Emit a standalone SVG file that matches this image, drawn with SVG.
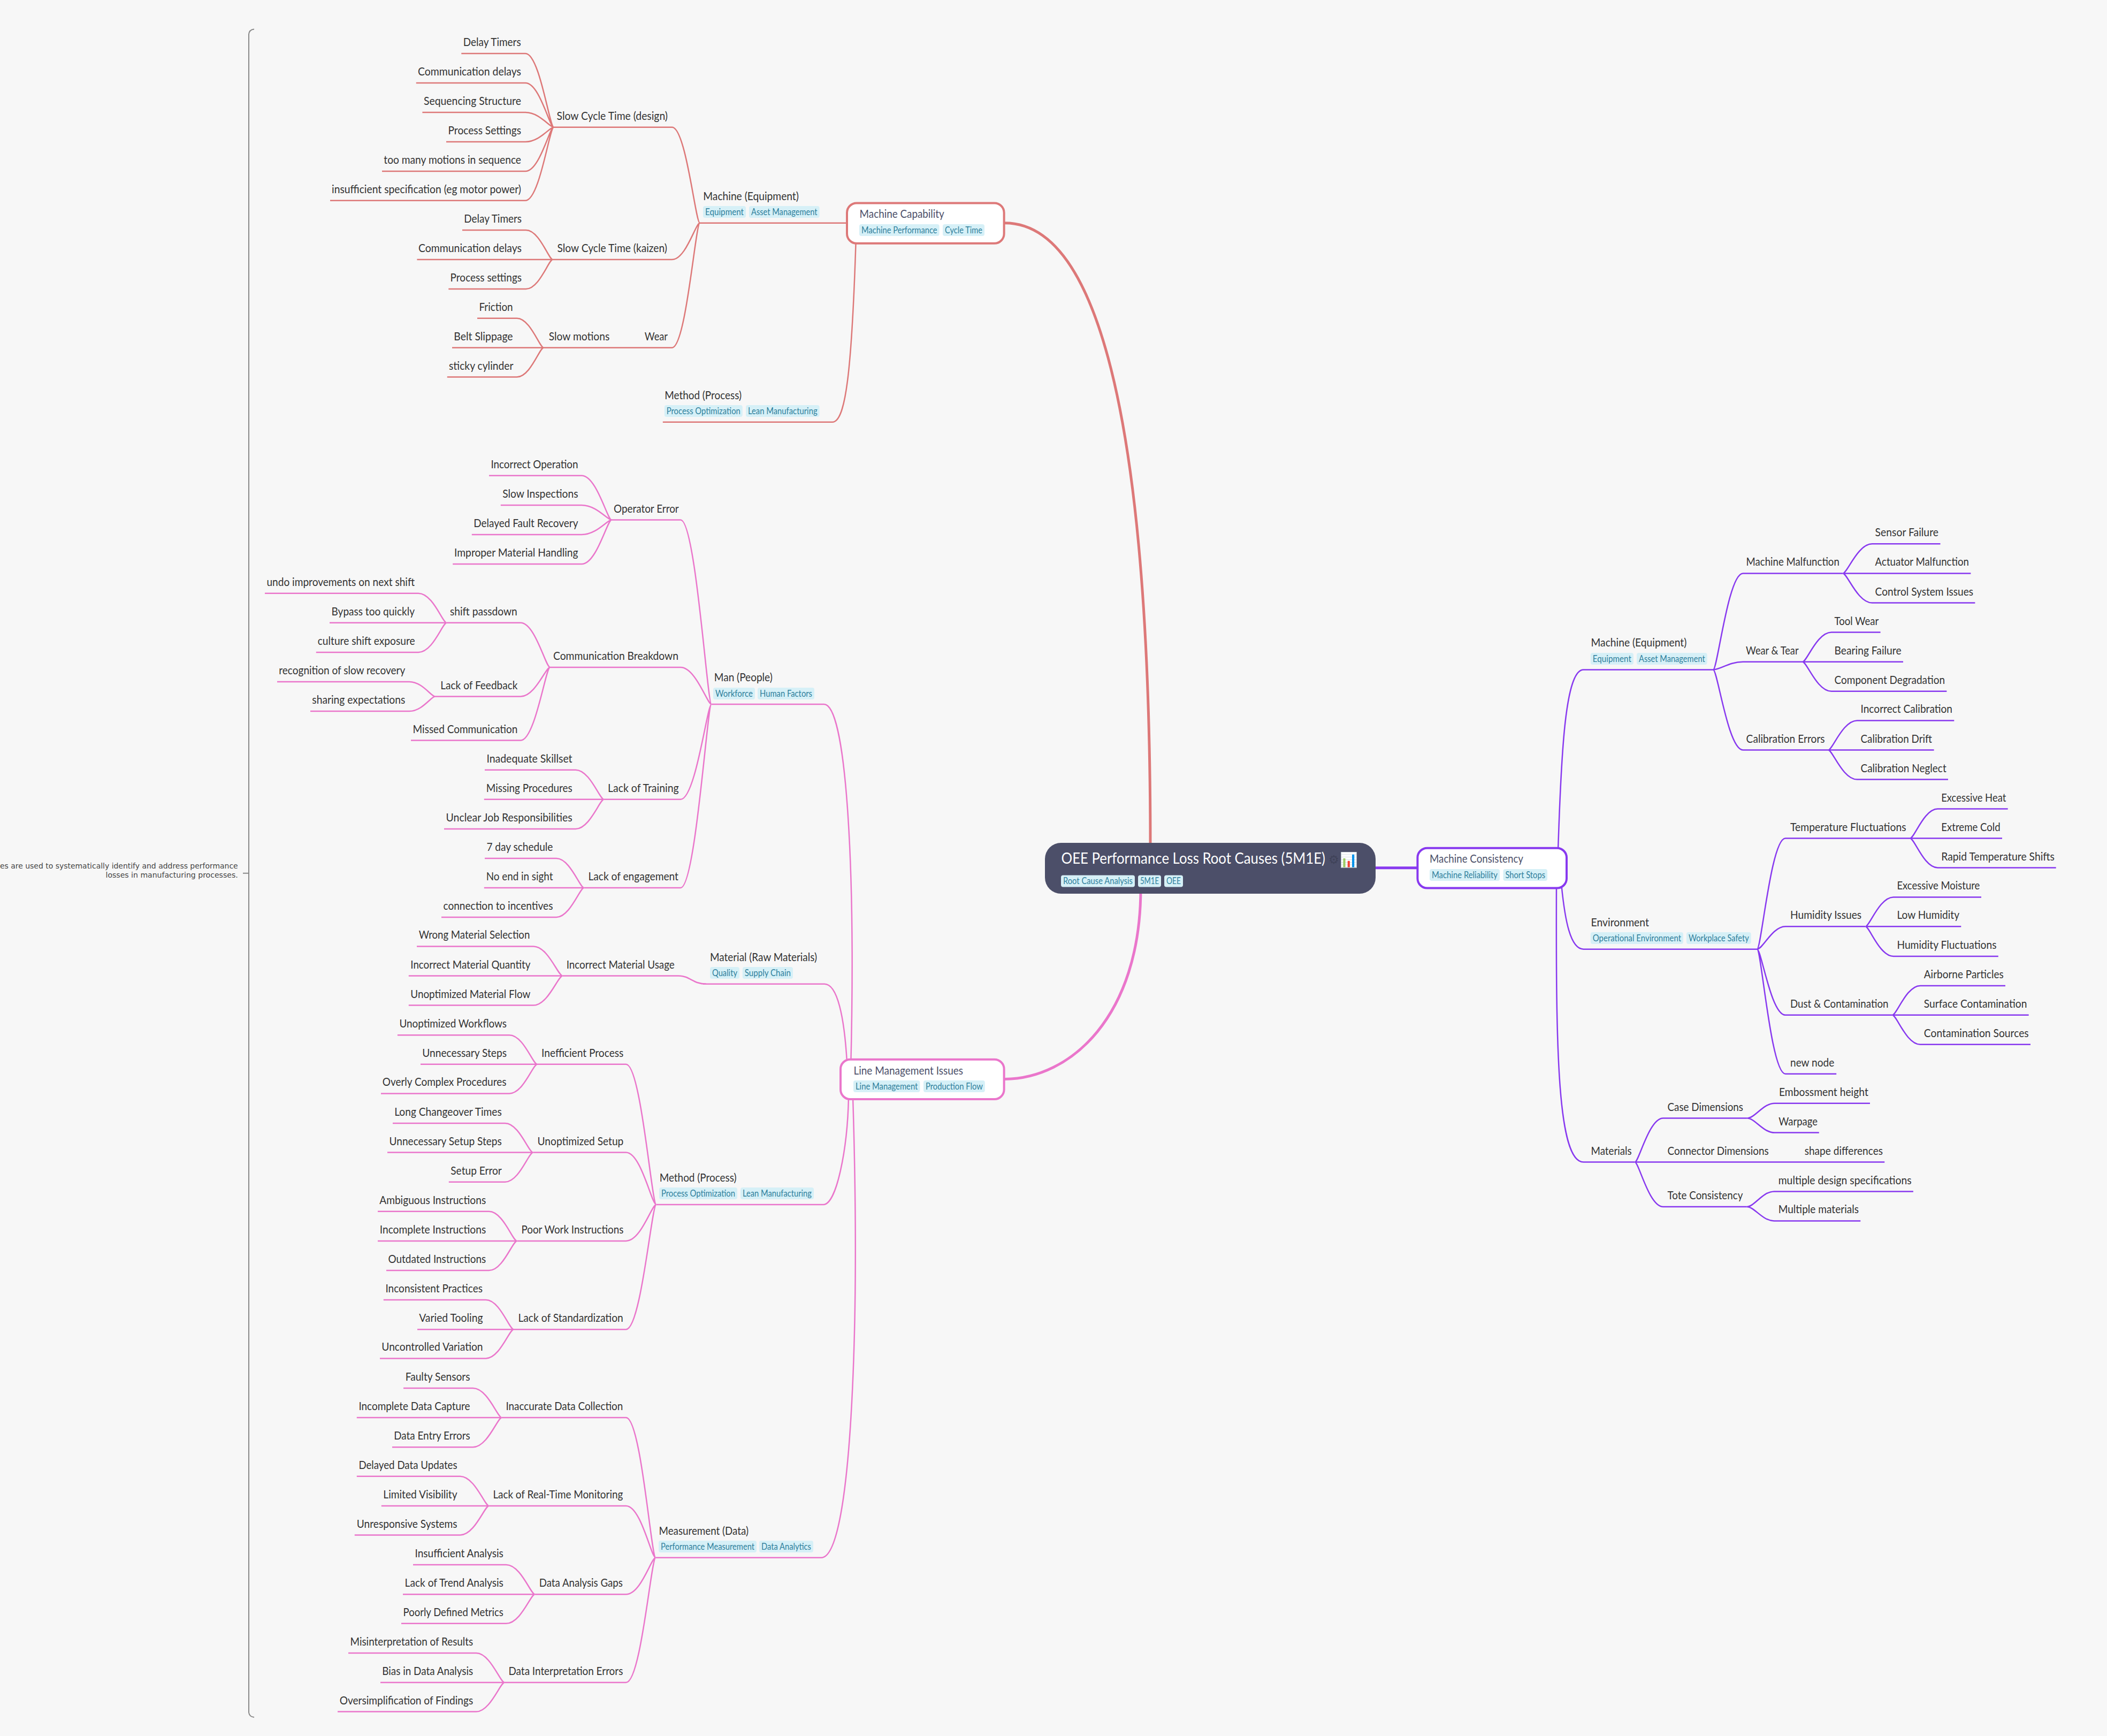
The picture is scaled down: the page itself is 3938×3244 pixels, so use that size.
<svg xmlns="http://www.w3.org/2000/svg" width="3938" height="3244" viewBox="0 0 3938 3244">
<style>
text{font-family:Lato,"Liberation Sans",sans-serif}
.l{font-size:22px;fill:#333}
.t{font-size:22px;fill:#4c4f69}
.r{font-size:28px;fill:#fff}
.g{font-size:16.5px;fill:#2e7f9c}
.gb{fill:#d6f0f7}
.d{font-family:"DejaVu Sans",sans-serif;font-size:13.3px;fill:#444}
path{fill:none}
.c1{stroke:#dd7878;stroke-width:2.5}
.c2{stroke:#ea76cb;stroke-width:2.5}
.c3{stroke:#8839ef;stroke-width:2.5}
.nr{fill:#fff;stroke-width:4}
</style>
<rect width="3938" height="3244" fill="#f7f7f7"/>
<g id="summary-brace"><path d="M475 54.6Q466 55.5 465 64V3200Q466 3208 475 3209M454 1631.7H465" stroke="#888" stroke-width="2"/>
<text class="d" x="0" y="1623" textLength="444.7" lengthAdjust="spacingAndGlyphs">es are used to systematically identify and address performance</text>
<text class="d" x="197.5" y="1640" textLength="247.2" lengthAdjust="spacingAndGlyphs">losses in manufacturing processes.</text></g>
<g id="connectors">
<g class="c1">
<path style="stroke-width:5" d="M1878 416.8C2030 416.8 2150 700 2150 1580"/>
<path d="M1308 416.8H1585M1238.8 788.8H1555.6C1580 788.8 1592 700 1600 440"/>
<path d="M1035 237.8H1256C1282 237.8 1300 416.8 1308 416.8M1033 485H1256C1282 485 1300 416.8 1308 416.8M1016 649.7H1256C1282 649.7 1300 416.8 1308 416.8"/>
<path d="M862.3 100H982C1008.5 100 1027 237.8 1035 237.8M777.8 155H982C1008.5 155 1027 237.8 1035 237.8M789.4 210H982C1008.5 210 1027 237.8 1035 237.8M834 265H982C1008.5 265 1027 237.8 1035 237.8M714 320H982C1008.5 320 1027 237.8 1035 237.8M617 374.8H982C1008.5 374.8 1027 237.8 1035 237.8"/>
<path d="M864 430H983C1008 430 1025.5 485 1033 485M779.4 485H1033M838.3 540H983C1008 540 1025.5 485 1033 485"/>
<path d="M892 594.8H966C991 594.8 1008.5 649.7 1016 649.7M845 649.7H1016M835.8 704.6H966C991 704.6 1008.5 649.7 1016 649.7"/>
</g>
<g class="c2">
<path style="stroke-width:5" d="M1878 2016.5C2000 2016 2132 1900 2132 1660"/>
<path d="M1329.6 1315.9H1540C1580 1315.9 1600 1600 1590 2000M1314 1838.8H1541C1565 1838.8 1578 1900 1583 1985M1226.5 2251H1539C1563 2251 1584 2150 1586 2050M1225.5 2910.8H1535C1590 2910.8 1608 2500 1594 2050"/>
<path d="M1143 971.5H1272C1300 971.5 1322 1315.9 1329.6 1315.9M1028 1247H1272C1300 1247 1322 1315.9 1329.6 1315.9M1128.7 1493.8H1272C1300 1493.8 1322 1315.9 1329.6 1315.9M1091.4 1659H1272C1300 1659 1322 1315.9 1329.6 1315.9"/>
<path d="M914 888.8H1087C1115 888.8 1135 971.5 1143 971.5M935.8 943.9H1087C1115 943.9 1135 971.5 1143 971.5M881.8 999H1087C1115 999 1135 971.5 1143 971.5M846.2 1054.1H1087C1115 1054.1 1135 971.5 1143 971.5"/>
<path d="M834.8 1163.8H973C1000 1163.8 1020 1247 1028 1247M813 1301.5H973C1000 1301.5 1020 1247 1028 1247M768 1383.6H973C1000 1383.6 1020 1247 1028 1247"/>
<path d="M495 1108.7H782C809 1108.7 827 1163.8 834.8 1163.8M616 1163.8H834.8M590.8 1218.9H782C809 1218.9 827 1163.8 834.8 1163.8"/>
<path d="M518 1274H765C789 1274 806 1301.5 813 1301.5M580 1329H765C789 1329 806 1301.5 813 1301.5"/>
<path d="M906 1438.7H1076C1102 1438.7 1121 1493.8 1128.7 1493.8M904.8 1493.8H1128.7M830 1549H1076C1102 1549 1121 1493.8 1128.7 1493.8"/>
<path d="M906 1604H1040C1065 1604 1084 1659 1091.4 1659M904.8 1659H1091.4M825 1714H1040C1065 1714 1084 1659 1091.4 1659"/>
<path d="M1051.5 1823.5H1268C1290 1823.5 1295 1838.8 1320 1838.8"/>
<path d="M779 1768.4H997C1024 1768.4 1043 1823.5 1051.5 1823.5M763.8 1823.5H1051.5M763.8 1878.6H997C1024 1878.6 1043 1823.5 1051.5 1823.5"/>
<path d="M1004 1988.8H1170C1198 1988.8 1218 2251 1226.5 2251M996.4 2153.6H1170C1198 2153.6 1218 2251 1226.5 2251M966.3 2318.9H1170C1198 2318.9 1218 2251 1226.5 2251M960 2484.2H1170C1198 2484.2 1218 2251 1226.5 2251"/>
<path d="M742.9 1934.2H952C978 1934.2 996 1988.8 1004 1988.8M786 1988.8H1004M712 2043.4H952C978 2043.4 996 1988.8 1004 1988.8"/>
<path d="M734 2099H944C970 2099 988 2153.6 996.4 2153.6M724 2153.6H996.4M838.8 2208.7H944C970 2208.7 988 2153.6 996.4 2153.6"/>
<path d="M706 2263.8H914C940 2263.8 958 2318.9 966.3 2318.9M706 2318.9H966.3M722 2374H914C940 2374 958 2318.9 966.3 2318.9"/>
<path d="M716.8 2429H908C934 2429 952 2484.2 960 2484.2M780 2484.2H960M710 2538.4H908C934 2538.4 952 2484.2 960 2484.2"/>
<path d="M937.8 2649H1170C1198 2649 1217 2910.8 1225.5 2910.8M913.8 2813.9H1170C1198 2813.9 1217 2910.8 1225.5 2910.8M999.5 2979.2H1170C1198 2979.2 1217 2910.8 1225.5 2910.8M942.9 3144H1170C1198 3144 1217 2910.8 1225.5 2910.8"/>
<path d="M754 2594H884C911 2594 930 2649 937.8 2649M666.8 2649H937.8M733 2704.2H884C911 2704.2 930 2649 937.8 2649"/>
<path d="M666.8 2758.8H860C887 2758.8 906 2813.9 913.8 2813.9M712.8 2813.9H913.8M662.8 2868.5H860C887 2868.5 906 2813.9 913.8 2813.9"/>
<path d="M772 2924H946C973 2924 992 2979.2 999.5 2979.2M753 2979.2H999.5M750 3033.8H946C973 3033.8 992 2979.2 999.5 2979.2"/>
<path d="M651 3089H890C916 3089 935 3144 942.9 3144M711 3144H942.9M631 3198.6H890C916 3198.6 935 3144 942.9 3144"/>
</g>
<g class="c3">
<path style="stroke-width:5" d="M2571 1621.7H2650"/>
<path d="M2912 1590C2918 1400 2926 1251.5 2959.6 1251.5H3202M2918.5 1655C2925 1720 2935 1773.7 2959.6 1773.7H3284M2909 1655C2908 1950 2910 2171.6 2959.6 2171.6H3055.6"/>
<path d="M3202 1251.5C3210 1251.5 3230 1071.4 3257.6 1071.4H3444.4M3202 1251.5C3215 1251.5 3232 1236.7 3257.6 1236.7H3369M3202 1251.5C3210 1251.5 3230 1401.5 3257.6 1401.5H3417"/>
<path d="M3444.4 1071.4C3452.5 1071.4 3472 1016.3 3499 1016.3H3626.5M3444.4 1071.4H3683.4M3444.4 1071.4C3452.5 1071.4 3472 1126.5 3499 1126.5H3691.4"/>
<path d="M3369 1236.7C3377 1236.7 3396 1181.6 3423 1181.6H3514.6M3369 1236.7H3557M3369 1236.7C3377 1236.7 3396 1291.8 3423 1291.8H3638.4"/>
<path d="M3417 1401.5C3425 1401.5 3444 1346.4 3471 1346.4H3652.3M3417 1401.5H3614.6M3417 1401.5C3425 1401.5 3444 1456.6 3471 1456.6H3641"/>
<path d="M3284 1773.7C3292 1773.7 3310 1566.5 3337 1566.5H3570M3284 1773.7C3295 1773.7 3312 1731.3 3337 1731.3H3486.5M3284 1773.7C3292 1773.7 3310 1896.8 3337 1896.8H3536.8M3284 1773.7C3292 1773.7 3310 2006.7 3337 2006.7H3432.2"/>
<path d="M3570 1566.5C3578 1566.5 3596 1511.6 3621.6 1511.6H3752.7M3570 1566.5H3742M3570 1566.5C3578 1566.5 3596 1621.5 3621.6 1621.5H3842.7"/>
<path d="M3486.5 1731.3C3494 1731.3 3513 1676.4 3538.8 1676.4H3703M3486.5 1731.3H3665.3M3486.5 1731.3C3494 1731.3 3513 1787 3538.8 1787H3734.8"/>
<path d="M3536.8 1896.8C3545 1896.8 3563 1841.9 3589 1841.9H3748M3536.8 1896.8H3791.7M3536.8 1896.8C3545 1896.8 3563 1951.8 3589 1951.8H3795"/>
<path d="M3055.6 2171.6C3063 2171.6 3082 2089.5 3108.5 2089.5H3265.4M3055.6 2171.6H3522.3M3055.6 2171.6C3063 2171.6 3082 2255 3108.5 2255H3264.8"/>
<path d="M3265.4 2089.5C3280 2089.5 3295 2061.7 3317 2061.7H3495M3265.4 2089.5C3280 2089.5 3295 2116.6 3317 2116.6H3399.8"/>
<path d="M3264.8 2255C3279 2255 3294 2226.5 3315.7 2226.5H3575.9M3264.8 2255C3279 2255 3294 2281.4 3315.7 2281.4H3477.3"/>
</g>
</g>
<g id="root"><rect x="1953" y="1575" width="618" height="95" rx="30" fill="#4c4f69"/>
<text class="r" x="1983.5" y="1614" textLength="493.5" lengthAdjust="spacingAndGlyphs">OEE Performance Loss Root Causes (5M1E)</text>
<text x="2483" y="1614" font-size="22" fill="#3f4258" style="font-family:'DejaVu Sans',sans-serif">⚙</text>
<text x="2504" y="1616" font-size="27" style="font-family:'DejaVu Sans','Noto Sans',sans-serif">📊</text>
<rect class="gb" x="1983" y="1635.5" width="138" height="22" rx="4"/><text class="g" x="1987" y="1652" textLength="130" lengthAdjust="spacingAndGlyphs">Root Cause Analysis</text>
<rect class="gb" x="2127" y="1635.5" width="43" height="22" rx="4"/><text class="g" x="2131" y="1652" textLength="35" lengthAdjust="spacingAndGlyphs">5M1E</text>
<rect class="gb" x="2176" y="1635.5" width="35" height="22" rx="4"/><text class="g" x="2180" y="1652" textLength="27" lengthAdjust="spacingAndGlyphs">OEE</text></g>
<g id="machine-capability"><rect class="nr" x="1583" y="379.5" width="293.6" height="75.3" rx="18" stroke="#dd7878"/>
<text class="t" x="1606.6" y="407" textLength="158.2" lengthAdjust="spacingAndGlyphs">Machine Capability</text>
<rect class="gb" x="1606" y="419" width="149.6" height="22" rx="4"/><text class="g" x="1610" y="435.5" textLength="141.6" lengthAdjust="spacingAndGlyphs">Machine Performance</text>
<rect class="gb" x="1762" y="419" width="78" height="22" rx="4"/><text class="g" x="1766" y="435.5" textLength="70" lengthAdjust="spacingAndGlyphs">Cycle Time</text></g>
<g id="line-management"><rect class="nr" x="1571" y="1979.7" width="305.6" height="74.3" rx="18" stroke="#ea76cb"/>
<text class="t" x="1595.4" y="2008" textLength="204.6" lengthAdjust="spacingAndGlyphs">Line Management Issues</text>
<rect class="gb" x="1595" y="2019" width="124.4" height="22" rx="4"/><text class="g" x="1599" y="2035.5" textLength="116.4" lengthAdjust="spacingAndGlyphs">Line Management</text>
<rect class="gb" x="1726" y="2019" width="114.8" height="22" rx="4"/><text class="g" x="1730" y="2035.5" textLength="106.8" lengthAdjust="spacingAndGlyphs">Production Flow</text></g>
<g id="machine-consistency"><rect class="nr" x="2649.4" y="1584.7" width="278.6" height="74.8" rx="18" stroke="#8839ef"/>
<text class="t" x="2672" y="1612" textLength="175" lengthAdjust="spacingAndGlyphs">Machine Consistency</text>
<rect class="gb" x="2672" y="1624" width="131" height="22" rx="4"/><text class="g" x="2676" y="1640.5" textLength="123" lengthAdjust="spacingAndGlyphs">Machine Reliability</text>
<rect class="gb" x="2809.5" y="1624" width="82.5" height="22" rx="4"/><text class="g" x="2813.5" y="1640.5" textLength="74.5" lengthAdjust="spacingAndGlyphs">Short Stops</text></g>

<g id="cap-machine"><text class="l" x="1314.3" y="373.8" textLength="178.6" lengthAdjust="spacingAndGlyphs">Machine (Equipment)</text>
<rect class="gb" x="1314" y="385" width="80" height="22" rx="4"/><text class="g" x="1318" y="401.5" textLength="72" lengthAdjust="spacingAndGlyphs">Equipment</text>
<rect class="gb" x="1400" y="385" width="131.6" height="22" rx="4"/><text class="g" x="1404" y="401.5" textLength="123.6" lengthAdjust="spacingAndGlyphs">Asset Management</text></g>
<g id="cap-method"><text class="l" x="1242.3" y="745.8" textLength="143.7" lengthAdjust="spacingAndGlyphs">Method (Process)</text>
<rect class="gb" x="1241.8" y="757" width="146" height="22" rx="4"/><text class="g" x="1245.8" y="773.5" textLength="138" lengthAdjust="spacingAndGlyphs">Process Optimization</text>
<rect class="gb" x="1394" y="757" width="137.6" height="22" rx="4"/><text class="g" x="1398" y="773.5" textLength="129.6" lengthAdjust="spacingAndGlyphs">Lean Manufacturing</text></g>
<g id="n-slow-design"><text class="l" x="1040.6" y="223.8" textLength="207.4" lengthAdjust="spacingAndGlyphs">Slow Cycle Time (design)</text></g>
<g id="n-d1"><text class="l" x="865.7" y="86" textLength="108" lengthAdjust="spacingAndGlyphs">Delay Timers</text></g>
<g id="n-d2"><text class="l" x="781" y="141" textLength="193" lengthAdjust="spacingAndGlyphs">Communication delays</text></g>
<g id="n-d3"><text class="l" x="792" y="196" textLength="182" lengthAdjust="spacingAndGlyphs">Sequencing Structure</text></g>
<g id="n-d4"><text class="l" x="837.5" y="251" textLength="136.5" lengthAdjust="spacingAndGlyphs">Process Settings</text></g>
<g id="n-d5"><text class="l" x="717.3" y="306" textLength="256.7" lengthAdjust="spacingAndGlyphs">too many motions in sequence</text></g>
<g id="n-d6"><text class="l" x="620" y="360.8" textLength="354" lengthAdjust="spacingAndGlyphs">insufficient specification (eg motor power)</text></g>
<g id="n-slow-kaizen"><text class="l" x="1041.5" y="471" textLength="205.5" lengthAdjust="spacingAndGlyphs">Slow Cycle Time (kaizen)</text></g>
<g id="n-k1"><text class="l" x="867.3" y="416" textLength="107.7" lengthAdjust="spacingAndGlyphs">Delay Timers</text></g>
<g id="n-k2"><text class="l" x="782" y="471" textLength="193" lengthAdjust="spacingAndGlyphs">Communication delays</text></g>
<g id="n-k3"><text class="l" x="841.6" y="526" textLength="133.4" lengthAdjust="spacingAndGlyphs">Process settings</text></g>
<g id="n-wear"><text class="l" x="1204.8" y="635.7" textLength="43.2" lengthAdjust="spacingAndGlyphs">Wear</text></g>
<g id="n-slowmotions"><text class="l" x="1025.7" y="635.7" textLength="113.6" lengthAdjust="spacingAndGlyphs">Slow motions</text></g>
<g id="n-s1"><text class="l" x="895.5" y="580.8" textLength="63.1" lengthAdjust="spacingAndGlyphs">Friction</text></g>
<g id="n-s2"><text class="l" x="848.3" y="635.7" textLength="110.3" lengthAdjust="spacingAndGlyphs">Belt Slippage</text></g>
<g id="n-s3"><text class="l" x="839" y="690.6" textLength="120.4" lengthAdjust="spacingAndGlyphs">sticky cylinder</text></g>

<g id="line-man"><text class="l" x="1334.8" y="1272.9" textLength="109" lengthAdjust="spacingAndGlyphs">Man (People)</text>
<rect class="gb" x="1333" y="1285" width="78" height="22" rx="4"/><text class="g" x="1337" y="1301.5" textLength="70" lengthAdjust="spacingAndGlyphs">Workforce</text>
<rect class="gb" x="1416" y="1285" width="106" height="22" rx="4"/><text class="g" x="1420" y="1301.5" textLength="98" lengthAdjust="spacingAndGlyphs">Human Factors</text></g>
<g id="n-op"><text class="l" x="1147" y="957.5" textLength="121.7" lengthAdjust="spacingAndGlyphs">Operator Error</text></g>
<g id="n-op1"><text class="l" x="917.4" y="874.8" textLength="163.1" lengthAdjust="spacingAndGlyphs">Incorrect Operation</text></g>
<g id="n-op2"><text class="l" x="939.2" y="929.9" textLength="141.3" lengthAdjust="spacingAndGlyphs">Slow Inspections</text></g>
<g id="n-op3"><text class="l" x="885.3" y="985" textLength="195.2" lengthAdjust="spacingAndGlyphs">Delayed Fault Recovery</text></g>
<g id="n-op4"><text class="l" x="849.1" y="1040.1" textLength="231.4" lengthAdjust="spacingAndGlyphs">Improper Material Handling</text></g>
<g id="n-comm"><text class="l" x="1034" y="1233" textLength="234" lengthAdjust="spacingAndGlyphs">Communication Breakdown</text></g>
<g id="n-shift"><text class="l" x="841" y="1149.8" textLength="125.8" lengthAdjust="spacingAndGlyphs">shift passdown</text></g>
<g id="n-sh1"><text class="l" x="498.4" y="1094.7" textLength="276.6" lengthAdjust="spacingAndGlyphs">undo improvements on next shift</text></g>
<g id="n-sh2"><text class="l" x="619.5" y="1149.8" textLength="155.5" lengthAdjust="spacingAndGlyphs">Bypass too quickly</text></g>
<g id="n-sh3"><text class="l" x="593.7" y="1204.9" textLength="181.9" lengthAdjust="spacingAndGlyphs">culture shift exposure</text></g>
<g id="n-feedback"><text class="l" x="823.3" y="1287.5" textLength="144.1" lengthAdjust="spacingAndGlyphs">Lack of Feedback</text></g>
<g id="n-fb1"><text class="l" x="521.3" y="1260" textLength="236" lengthAdjust="spacingAndGlyphs">recognition of slow recovery</text></g>
<g id="n-fb2"><text class="l" x="583.3" y="1315" textLength="174" lengthAdjust="spacingAndGlyphs">sharing expectations</text></g>
<g id="n-missed"><text class="l" x="771.6" y="1369.6" textLength="195.8" lengthAdjust="spacingAndGlyphs">Missed Communication</text></g>
<g id="n-train"><text class="l" x="1136" y="1479.8" textLength="132.7" lengthAdjust="spacingAndGlyphs">Lack of Training</text></g>
<g id="n-tr1"><text class="l" x="909.4" y="1424.7" textLength="160.2" lengthAdjust="spacingAndGlyphs">Inadequate Skillset</text></g>
<g id="n-tr2"><text class="l" x="908.8" y="1479.8" textLength="160.8" lengthAdjust="spacingAndGlyphs">Missing Procedures</text></g>
<g id="n-tr3"><text class="l" x="833.6" y="1535" textLength="236" lengthAdjust="spacingAndGlyphs">Unclear Job Responsibilities</text></g>
<g id="n-eng"><text class="l" x="1099.4" y="1645" textLength="168.6" lengthAdjust="spacingAndGlyphs">Lack of engagement</text></g>
<g id="n-en1"><text class="l" x="909.4" y="1590" textLength="124" lengthAdjust="spacingAndGlyphs">7 day schedule</text></g>
<g id="n-en2"><text class="l" x="908.8" y="1645" textLength="124.6" lengthAdjust="spacingAndGlyphs">No end in sight</text></g>
<g id="n-en3"><text class="l" x="828.5" y="1700" textLength="204.9" lengthAdjust="spacingAndGlyphs">connection to incentives</text></g>

<g id="line-material"><text class="l" x="1327" y="1795.8" textLength="200" lengthAdjust="spacingAndGlyphs">Material (Raw Materials)</text>
<rect class="gb" x="1327" y="1807" width="55" height="22" rx="4"/><text class="g" x="1331" y="1823.5" textLength="47" lengthAdjust="spacingAndGlyphs">Quality</text>
<rect class="gb" x="1387.8" y="1807" width="94.2" height="22" rx="4"/><text class="g" x="1391.8" y="1823.5" textLength="86.2" lengthAdjust="spacingAndGlyphs">Supply Chain</text></g>
<g id="n-mat"><text class="l" x="1058.7" y="1809.5" textLength="202" lengthAdjust="spacingAndGlyphs">Incorrect Material Usage</text></g>
<g id="n-mt1"><text class="l" x="782.7" y="1754.4" textLength="207.6" lengthAdjust="spacingAndGlyphs">Wrong Material Selection</text></g>
<g id="n-mt2"><text class="l" x="767.3" y="1809.5" textLength="224" lengthAdjust="spacingAndGlyphs">Incorrect Material Quantity</text></g>
<g id="n-mt3"><text class="l" x="767.3" y="1864.6" textLength="224" lengthAdjust="spacingAndGlyphs">Unoptimized Material Flow</text></g>

<g id="line-method"><text class="l" x="1232.7" y="2208" textLength="143.8" lengthAdjust="spacingAndGlyphs">Method (Process)</text>
<rect class="gb" x="1232" y="2219" width="146" height="22" rx="4"/><text class="g" x="1236" y="2235.5" textLength="138" lengthAdjust="spacingAndGlyphs">Process Optimization</text>
<rect class="gb" x="1384" y="2219" width="137" height="22" rx="4"/><text class="g" x="1388" y="2235.5" textLength="129" lengthAdjust="spacingAndGlyphs">Lean Manufacturing</text></g>
<g id="n-ineff"><text class="l" x="1012" y="1974.8" textLength="153.3" lengthAdjust="spacingAndGlyphs">Inefficient Process</text></g>
<g id="n-if1"><text class="l" x="746.4" y="1920.2" textLength="200.6" lengthAdjust="spacingAndGlyphs">Unoptimized Workflows</text></g>
<g id="n-if2"><text class="l" x="789.3" y="1974.8" textLength="157.7" lengthAdjust="spacingAndGlyphs">Unnecessary Steps</text></g>
<g id="n-if3"><text class="l" x="714.8" y="2029.4" textLength="231.6" lengthAdjust="spacingAndGlyphs">Overly Complex Procedures</text></g>
<g id="n-setup"><text class="l" x="1004.6" y="2139.6" textLength="160.7" lengthAdjust="spacingAndGlyphs">Unoptimized Setup</text></g>
<g id="n-su1"><text class="l" x="737.2" y="2085" textLength="200.6" lengthAdjust="spacingAndGlyphs">Long Changeover Times</text></g>
<g id="n-su2"><text class="l" x="727.6" y="2139.6" textLength="210.2" lengthAdjust="spacingAndGlyphs">Unnecessary Setup Steps</text></g>
<g id="n-su3"><text class="l" x="842.3" y="2194.7" textLength="95.5" lengthAdjust="spacingAndGlyphs">Setup Error</text></g>
<g id="n-poor"><text class="l" x="974.5" y="2304.9" textLength="190.8" lengthAdjust="spacingAndGlyphs">Poor Work Instructions</text></g>
<g id="n-pw1"><text class="l" x="709.2" y="2249.8" textLength="199" lengthAdjust="spacingAndGlyphs">Ambiguous Instructions</text></g>
<g id="n-pw2"><text class="l" x="709.7" y="2304.9" textLength="198.5" lengthAdjust="spacingAndGlyphs">Incomplete Instructions</text></g>
<g id="n-pw3"><text class="l" x="725.5" y="2360" textLength="182.7" lengthAdjust="spacingAndGlyphs">Outdated Instructions</text></g>
<g id="n-std"><text class="l" x="968.4" y="2470.2" textLength="196.4" lengthAdjust="spacingAndGlyphs">Lack of Standardization</text></g>
<g id="n-st1"><text class="l" x="720.4" y="2415" textLength="181.6" lengthAdjust="spacingAndGlyphs">Inconsistent Practices</text></g>
<g id="n-st2"><text class="l" x="783.2" y="2470.2" textLength="119.4" lengthAdjust="spacingAndGlyphs">Varied Tooling</text></g>
<g id="n-st3"><text class="l" x="713.3" y="2524.4" textLength="189.3" lengthAdjust="spacingAndGlyphs">Uncontrolled Variation</text></g>

<g id="line-measurement"><text class="l" x="1231.6" y="2867.8" textLength="167.4" lengthAdjust="spacingAndGlyphs">Measurement (Data)</text>
<rect class="gb" x="1231" y="2879" width="183" height="22" rx="4"/><text class="g" x="1235" y="2895.5" textLength="175" lengthAdjust="spacingAndGlyphs">Performance Measurement</text>
<rect class="gb" x="1419" y="2879" width="101" height="22" rx="4"/><text class="g" x="1423" y="2895.5" textLength="93" lengthAdjust="spacingAndGlyphs">Data Analytics</text></g>
<g id="n-inacc"><text class="l" x="945.4" y="2635" textLength="218.9" lengthAdjust="spacingAndGlyphs">Inaccurate Data Collection</text></g>
<g id="n-ia1"><text class="l" x="757.7" y="2580" textLength="120.9" lengthAdjust="spacingAndGlyphs">Faulty Sensors</text></g>
<g id="n-ia2"><text class="l" x="670.4" y="2635" textLength="208.2" lengthAdjust="spacingAndGlyphs">Incomplete Data Capture</text></g>
<g id="n-ia3"><text class="l" x="736.2" y="2690.2" textLength="142.4" lengthAdjust="spacingAndGlyphs">Data Entry Errors</text></g>
<g id="n-rt"><text class="l" x="921.4" y="2799.9" textLength="242.9" lengthAdjust="spacingAndGlyphs">Lack of Real-Time Monitoring</text></g>
<g id="n-rt1"><text class="l" x="670.4" y="2744.8" textLength="184.2" lengthAdjust="spacingAndGlyphs">Delayed Data Updates</text></g>
<g id="n-rt2"><text class="l" x="716.3" y="2799.9" textLength="138.3" lengthAdjust="spacingAndGlyphs">Limited Visibility</text></g>
<g id="n-rt3"><text class="l" x="666.8" y="2854.5" textLength="187.8" lengthAdjust="spacingAndGlyphs">Unresponsive Systems</text></g>
<g id="n-gaps"><text class="l" x="1007.7" y="2965.2" textLength="156.1" lengthAdjust="spacingAndGlyphs">Data Analysis Gaps</text></g>
<g id="n-ga1"><text class="l" x="775.5" y="2910" textLength="165.3" lengthAdjust="spacingAndGlyphs">Insufficient Analysis</text></g>
<g id="n-ga2"><text class="l" x="756.6" y="2965.2" textLength="184.2" lengthAdjust="spacingAndGlyphs">Lack of Trend Analysis</text></g>
<g id="n-ga3"><text class="l" x="753.6" y="3019.8" textLength="187.2" lengthAdjust="spacingAndGlyphs">Poorly Defined Metrics</text></g>
<g id="n-interp"><text class="l" x="950.5" y="3130" textLength="213.8" lengthAdjust="spacingAndGlyphs">Data Interpretation Errors</text></g>
<g id="n-ie1"><text class="l" x="654.6" y="3075" textLength="229.6" lengthAdjust="spacingAndGlyphs">Misinterpretation of Results</text></g>
<g id="n-ie2"><text class="l" x="714.3" y="3130" textLength="169.9" lengthAdjust="spacingAndGlyphs">Bias in Data Analysis</text></g>
<g id="n-ie3"><text class="l" x="634.7" y="3184.6" textLength="249.5" lengthAdjust="spacingAndGlyphs">Oversimplification of Findings</text></g>

<g id="con-machine"><text class="l" x="2973.5" y="1207.6" textLength="178.8" lengthAdjust="spacingAndGlyphs">Machine (Equipment)</text>
<rect class="gb" x="2972.8" y="1220" width="80.2" height="22" rx="4"/><text class="g" x="2976.8" y="1236.5" textLength="72.2" lengthAdjust="spacingAndGlyphs">Equipment</text>
<rect class="gb" x="3059" y="1220" width="131.7" height="22" rx="4"/><text class="g" x="3063" y="1236.5" textLength="123.7" lengthAdjust="spacingAndGlyphs">Asset Management</text></g>
<g id="n-mm"><text class="l" x="3263.6" y="1057.4" textLength="174.2" lengthAdjust="spacingAndGlyphs">Machine Malfunction</text></g>
<g id="n-mm1"><text class="l" x="3504.6" y="1002.3" textLength="118.4" lengthAdjust="spacingAndGlyphs">Sensor Failure</text></g>
<g id="n-mm2"><text class="l" x="3504.6" y="1057.4" textLength="175.4" lengthAdjust="spacingAndGlyphs">Actuator Malfunction</text></g>
<g id="n-mm3"><text class="l" x="3504.6" y="1112.5" textLength="183.4" lengthAdjust="spacingAndGlyphs">Control System Issues</text></g>
<g id="n-wt"><text class="l" x="3263" y="1222.7" textLength="98.6" lengthAdjust="spacingAndGlyphs">Wear &amp; Tear</text></g>
<g id="n-wt1"><text class="l" x="3428.5" y="1167.6" textLength="82.8" lengthAdjust="spacingAndGlyphs">Tool Wear</text></g>
<g id="n-wt2"><text class="l" x="3428.5" y="1222.7" textLength="125.1" lengthAdjust="spacingAndGlyphs">Bearing Failure</text></g>
<g id="n-wt3"><text class="l" x="3428.5" y="1277.8" textLength="206.5" lengthAdjust="spacingAndGlyphs">Component Degradation</text></g>
<g id="n-ce"><text class="l" x="3263.6" y="1387.5" textLength="147" lengthAdjust="spacingAndGlyphs">Calibration Errors</text></g>
<g id="n-ce1"><text class="l" x="3477.5" y="1332.4" textLength="171.5" lengthAdjust="spacingAndGlyphs">Incorrect Calibration</text></g>
<g id="n-ce2"><text class="l" x="3477.5" y="1387.5" textLength="133.5" lengthAdjust="spacingAndGlyphs">Calibration Drift</text></g>
<g id="n-ce3"><text class="l" x="3477.5" y="1442.6" textLength="160.2" lengthAdjust="spacingAndGlyphs">Calibration Neglect</text></g>

<g id="con-env"><text class="l" x="2973.5" y="1730.7" textLength="108.5" lengthAdjust="spacingAndGlyphs">Environment</text>
<rect class="gb" x="2972.8" y="1742" width="173.2" height="22" rx="4"/><text class="g" x="2976.8" y="1758.5" textLength="165.2" lengthAdjust="spacingAndGlyphs">Operational Environment</text>
<rect class="gb" x="3152" y="1742" width="120.7" height="22" rx="4"/><text class="g" x="3156" y="1758.5" textLength="112.7" lengthAdjust="spacingAndGlyphs">Workplace Safety</text></g>
<g id="n-tf"><text class="l" x="3346" y="1552.5" textLength="216.6" lengthAdjust="spacingAndGlyphs">Temperature Fluctuations</text></g>
<g id="n-tf1"><text class="l" x="3628.2" y="1497.6" textLength="121.1" lengthAdjust="spacingAndGlyphs">Excessive Heat</text></g>
<g id="n-tf2"><text class="l" x="3628.2" y="1552.5" textLength="110.5" lengthAdjust="spacingAndGlyphs">Extreme Cold</text></g>
<g id="n-tf3"><text class="l" x="3628.2" y="1607.5" textLength="211.8" lengthAdjust="spacingAndGlyphs">Rapid Temperature Shifts</text></g>
<g id="n-hu"><text class="l" x="3346" y="1717.3" textLength="133.2" lengthAdjust="spacingAndGlyphs">Humidity Issues</text></g>
<g id="n-hu1"><text class="l" x="3545.4" y="1662.4" textLength="154.9" lengthAdjust="spacingAndGlyphs">Excessive Moisture</text></g>
<g id="n-hu2"><text class="l" x="3545.4" y="1717.3" textLength="116.6" lengthAdjust="spacingAndGlyphs">Low Humidity</text></g>
<g id="n-hu3"><text class="l" x="3545.4" y="1773" textLength="186.1" lengthAdjust="spacingAndGlyphs">Humidity Fluctuations</text></g>
<g id="n-du"><text class="l" x="3346" y="1882.8" textLength="183.5" lengthAdjust="spacingAndGlyphs">Dust &amp; Contamination</text></g>
<g id="n-du1"><text class="l" x="3595.8" y="1827.9" textLength="148.9" lengthAdjust="spacingAndGlyphs">Airborne Particles</text></g>
<g id="n-du2"><text class="l" x="3595.8" y="1882.8" textLength="192.6" lengthAdjust="spacingAndGlyphs">Surface Contamination</text></g>
<g id="n-du3"><text class="l" x="3595.8" y="1937.8" textLength="195.9" lengthAdjust="spacingAndGlyphs">Contamination Sources</text></g>
<g id="n-new"><text class="l" x="3346" y="1992.7" textLength="82.3" lengthAdjust="spacingAndGlyphs">new node</text></g>

<g id="con-materials"><text class="l" x="2973.5" y="2157.6" textLength="76.1" lengthAdjust="spacingAndGlyphs">Materials</text></g>
<g id="n-cd"><text class="l" x="3116.5" y="2075.5" textLength="141.5" lengthAdjust="spacingAndGlyphs">Case Dimensions</text></g>
<g id="n-cd1"><text class="l" x="3325" y="2047.7" textLength="166.8" lengthAdjust="spacingAndGlyphs">Embossment height</text></g>
<g id="n-cd2"><text class="l" x="3324.3" y="2102.6" textLength="72.7" lengthAdjust="spacingAndGlyphs">Warpage</text></g>
<g id="n-con"><text class="l" x="3116.5" y="2157.6" textLength="189.3" lengthAdjust="spacingAndGlyphs">Connector Dimensions</text></g>
<g id="n-con1"><text class="l" x="3372.7" y="2157.6" textLength="146.3" lengthAdjust="spacingAndGlyphs">shape differences</text></g>
<g id="n-tc"><text class="l" x="3116.5" y="2241" textLength="141" lengthAdjust="spacingAndGlyphs">Tote Consistency</text></g>
<g id="n-tc1"><text class="l" x="3323.7" y="2212.5" textLength="248.9" lengthAdjust="spacingAndGlyphs">multiple design specifications</text></g>
<g id="n-tc2"><text class="l" x="3323.7" y="2267.4" textLength="150.3" lengthAdjust="spacingAndGlyphs">Multiple materials</text></g>
</svg>
